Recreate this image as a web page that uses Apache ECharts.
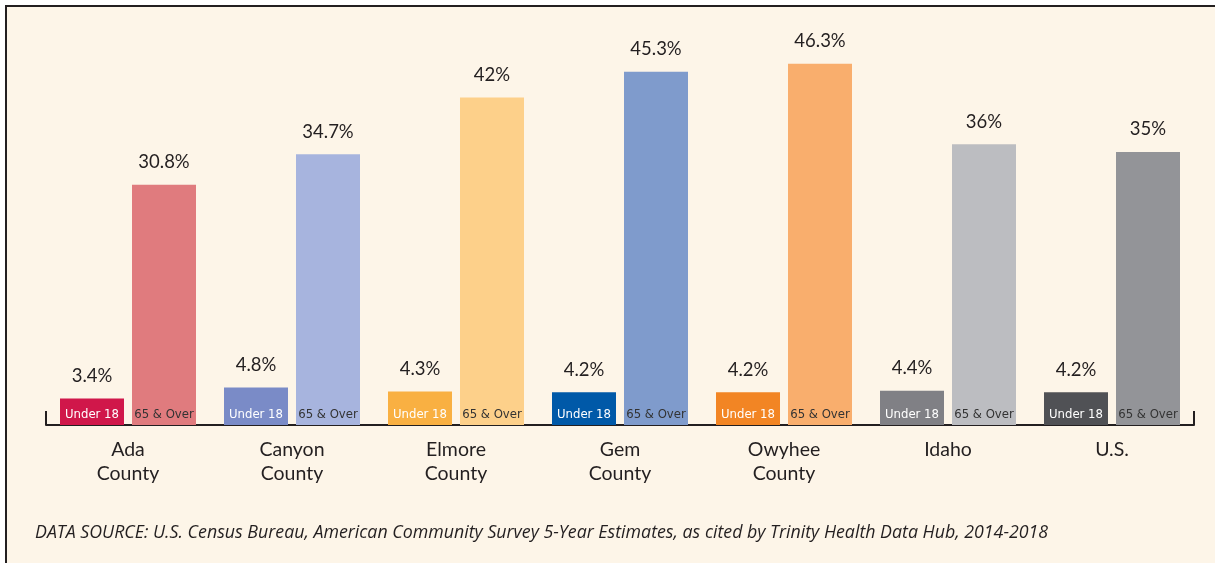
<!DOCTYPE html>
<html>
<head>
<meta charset="utf-8">
<script src="https://cdn.jsdelivr.net/npm/echarts@6/dist/echarts.min.js"></script>
<style>
  html, body { margin: 0; padding: 0; background: #ffffff; }
  #frame {
    position: absolute; left: 5px; top: 5px; right: 0; bottom: 0;
    background: #fdf5e8;
    border-left: 2px solid #231f20;
    border-top: 2px solid #231f20;
  }
  #chart { position: absolute; left: 0; top: 0; width: 1215px; height: 563px; }
</style>
</head>
<body>
<div id="frame"></div>
<div id="chart"></div>
<script>
// Data
const categories = ['Ada\nCounty', 'Canyon\nCounty', 'Elmore\nCounty', 'Gem\nCounty', 'Owyhee\nCounty', 'Idaho', 'U.S.'];
const under18 = [3.4, 4.8, 4.3, 4.2, 4.2, 4.4, 4.2];
const over65 = [30.8, 34.7, 42, 45.3, 46.3, 36, 35];
const under18Colors = ['#d0174a', '#7a8bc7', '#f9b042', '#0059a8', '#f28524', '#808085', '#505155'];
const over65Colors = ['#e07b7e', '#a7b4de', '#fdd08a', '#7f9bcc', '#f9ae6d', '#bcbdc1', '#939498'];
const sourceText = 'DATA SOURCE: U.S. Census Bureau, American Community Survey 5-Year Estimates, as cited by Trinity Health Data Hub, 2014-2018';

const textColor = '#231f20';
const mainFont = 'Lato, "Noto Sans", sans-serif';
const narrowFont = '"Liberation Sans Narrow", "DejaVu Sans Condensed", Roboto, sans-serif';

const fmtPct = (v) => v + '%';

// zero-height caps sit on top of each bar so the value can be shown above it
const capSeries = (stack, values) => ({
  type: 'bar',
  stack: stack,
  barWidth: 64,
  data: values.map(() => 0),
  itemStyle: { color: 'transparent' },
  label: {
    show: true,
    position: 'top',
    distance: 13,
    fontFamily: mainFont,
    fontSize: 18.5,
    color: textColor,
    formatter: (p) => fmtPct(values[p.dataIndex]),
  },
  silent: true,
});

const chart = echarts.init(document.getElementById('chart'), null, { renderer: 'canvas' });

chart.setOption({
  backgroundColor: 'transparent',
  animation: false,
  title: {
    text: sourceText,
    left: 30,
    top: 519,
    textStyle: {
      fontFamily: '"Open Sans", Lato, sans-serif',
      fontStyle: 'italic',
      fontWeight: 'normal',
      fontSize: 17.8,
      color: textColor,
    },
  },
  grid: { left: 46, right: 21, top: 35, bottom: 138 },
  xAxis: {
    type: 'category',
    data: categories,
    axisLine: { show: true, lineStyle: { color: textColor, width: 2 } },
    axisTick: {
      show: true,
      inside: true,
      length: 14,
      interval: (i) => i === 0,
      lineStyle: { color: textColor, width: 2 },
    },
    axisLabel: {
      margin: 13,
      fontFamily: mainFont,
      fontSize: 19.5,
      lineHeight: 24,
      color: textColor,
    },
  },
  yAxis: {
    type: 'value',
    min: 0,
    max: 50,
    show: false,
    splitLine: { show: false },
  },
  series: [
    {
      name: 'Under 18',
      type: 'bar',
      stack: 'u',
      barWidth: 64,
      barGap: '12.5%',
      data: under18.map((v, i) => ({ value: v, itemStyle: { color: under18Colors[i] } })),
      label: {
        show: true,
        position: 'insideBottom',
        distance: 4,
        formatter: 'Under 18',
        fontFamily: narrowFont,
        fontSize: 13,
        color: '#ffffff',
      },
    },
    capSeries('u', under18),
    {
      name: '65 & Over',
      type: 'bar',
      stack: 'o',
      barWidth: 64,
      barGap: '12.5%',
      data: over65.map((v, i) => ({ value: v, itemStyle: { color: over65Colors[i] } })),
      label: {
        show: true,
        position: 'insideBottom',
        distance: 4,
        formatter: '65 & Over',
        fontFamily: narrowFont,
        fontSize: 13,
        color: '#333333',
      },
    },
    capSeries('o', over65),
  ],
});

window.addEventListener('resize', () => chart.resize());
</script>
</body>
</html>
